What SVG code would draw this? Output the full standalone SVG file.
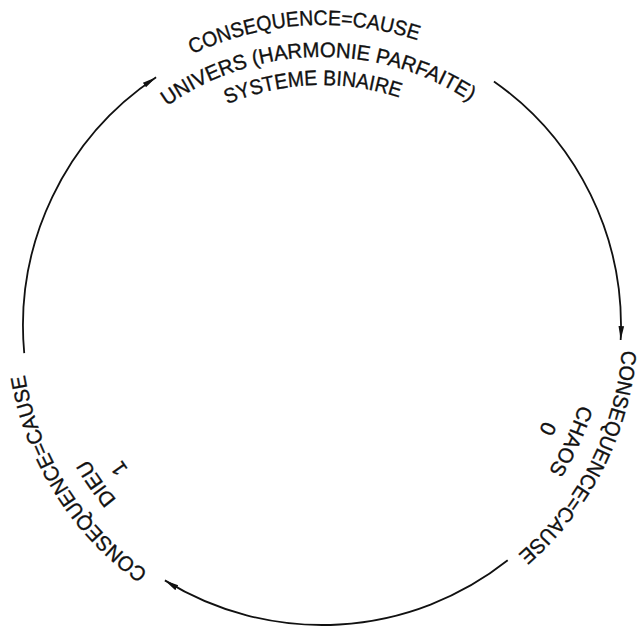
<svg xmlns="http://www.w3.org/2000/svg" width="642" height="626" viewBox="0 0 642 626">
<style>
.bg{fill:#ffffff}
.arc{fill:none;stroke:#111;stroke-width:1.8}
.lbl{font-family:"Liberation Sans",Arial,sans-serif;font-size:21px;fill:#111;stroke:#111;stroke-width:0.35;text-anchor:middle}
</style>
<defs>
<marker id="arr" markerUnits="userSpaceOnUse" markerWidth="16" markerHeight="8" refX="14" refY="4" orient="auto">
<path d="M0,1.2 L14,4 L0,6.8 z" fill="#111"/>
</marker>
<path id="t1" d="M80.03,146.97 A301,301 0 0 1 540.35,118.79"/>
<path id="t2" d="M113.26,156.34 A269,269 0 0 1 525.34,149.89"/>
<path id="t3" d="M131.56,178.29 A241,241 0 0 1 500.53,164.12"/>
<path id="r1" d="M599.07,208.40 A301,301 0 0 1 389.73,619.29"/>
<path id="r2" d="M565.39,211.46 A269,269 0 0 1 392.53,585.59"/>
<path id="r3" d="M539.53,222.25 A241,241 0 0 1 386.40,558.23"/>
<path id="l1" d="M280.10,624.08 A301,301 0 0 1 35.72,232.99"/>
<path id="l2" d="M298.09,593.93 A269,269 0 0 1 62.28,255.93"/>
<path id="l3" d="M301.42,566.11 A241,241 0 0 1 89.10,264.04"/>
</defs>
<rect class="bg" x="0" y="0" width="642" height="626"/>
<g id="connectors">
<path class="arc" d="M24.23,353.09 A299,299 0 0 1 156.11,77.23" marker-end="url(#arr)"/>
<path class="arc" d="M493.93,81.39 A299,299 0 0 1 620.67,340.08" marker-end="url(#arr)"/>
<path class="arc" d="M507.71,560.33 A299,299 0 0 1 164.88,580.39" marker-end="url(#arr)"/>
</g>
<g id="node-univers">
<text class="lbl"><textPath href="#t1" startOffset="50%" textLength="231" lengthAdjust="spacingAndGlyphs">CONSEQUENCE=CAUSE</textPath></text>
<text class="lbl"><textPath href="#t2" startOffset="50%" textLength="322" lengthAdjust="spacingAndGlyphs">UNIVERS (HARMONIE PARFAITE)</textPath></text>
<text class="lbl"><textPath href="#t3" startOffset="50%" textLength="176" lengthAdjust="spacingAndGlyphs">SYSTEME BINAIRE</textPath></text>
</g>
<g id="node-chaos">
<text class="lbl"><textPath href="#r1" startOffset="50%" textLength="235" lengthAdjust="spacingAndGlyphs">CONSEQUENCE=CAUSE</textPath></text>
<text class="lbl"><textPath href="#r2" startOffset="50%" textLength="73" lengthAdjust="spacingAndGlyphs">CHAOS</textPath></text>
<text class="lbl"><textPath href="#r3" startOffset="50%">0</textPath></text>
</g>
<g id="node-dieu">
<text class="lbl"><textPath href="#l1" startOffset="50%" textLength="238" lengthAdjust="spacingAndGlyphs">CONSEQUENCE=CAUSE</textPath></text>
<text class="lbl"><textPath href="#l2" startOffset="50%" textLength="50" lengthAdjust="spacingAndGlyphs">DIEU</textPath></text>
<text class="lbl"><textPath href="#l3" startOffset="50%">1</textPath></text>
</g>
</svg>
